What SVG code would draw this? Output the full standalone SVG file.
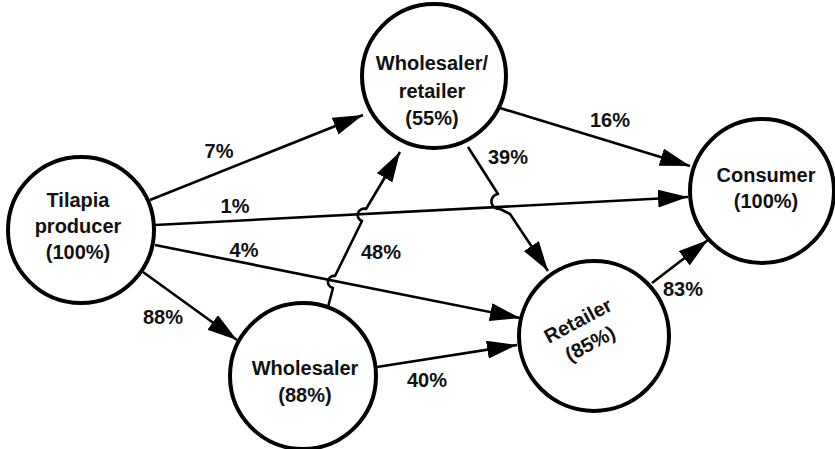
<svg xmlns="http://www.w3.org/2000/svg" width="835" height="449" viewBox="0 0 835 449">
<style>
.node{fill:#fff;stroke:#000;stroke-width:4}
.t{font-family:"Liberation Sans",Arial,sans-serif;font-weight:bold;font-size:20px;fill:#111;text-anchor:middle}
.e{fill:none;stroke:#000;stroke-width:2.6;stroke-linejoin:round}
.a{marker-end:url(#ah)}
</style>
<defs>
<marker id="ah" markerUnits="userSpaceOnUse" markerWidth="31" markerHeight="19" refX="30" refY="9" orient="auto" viewBox="0 0 31 19">
<path d="M0,0 L30,9 L0,18 Z" fill="#000"/>
</marker>
</defs>
<rect width="835" height="449" fill="#fff"/>
<g id="connectors">
<path class="e a" d="M150,200 L363,115"/>
<path class="e a" d="M155,225 L688,197"/>
<path class="e a" d="M155,245 L520,318"/>
<path class="e a" d="M143,272 L237,340"/>
<path class="e a" d="M328,307 L333,288 A6,6 0 0,1 335,276 L362,221 A6,6 0 0,1 366,209 L400,152"/>
<path class="e a" d="M500,108 L690,166"/>
<path class="e a" d="M468,147 L498,194 A7,7 0 0,0 500,209 L510,214 L548,271"/>
<path class="e a" d="M377,367 L517,345"/>
<path class="e a" d="M652,283 L708,240"/>
<text class="t" x="219" y="158">7%</text>
<text class="t" x="235" y="213">1%</text>
<text class="t" x="244" y="257">4%</text>
<text class="t" x="163" y="324">88%</text>
<text class="t" x="381" y="259">48%</text>
<text class="t" x="508" y="164">39%</text>
<text class="t" x="610" y="127">16%</text>
<text class="t" x="427" y="387">40%</text>
<text class="t" x="683" y="296">83%</text>
</g>
<g id="producer">
<circle class="node" cx="81" cy="230" r="73"/>
<text class="t" x="78" y="207">Tilapia</text>
<text class="t" x="78" y="233">producer</text>
<text class="t" x="78" y="259">(100%)</text>
</g>
<g id="wholesaler-retailer">
<circle class="node" cx="434" cy="76" r="72"/>
<text class="t" x="432" y="70">Wholesaler/</text>
<text class="t" x="432" y="98">retailer</text>
<text class="t" x="432" y="125">(55%)</text>
</g>
<g id="consumer">
<circle class="node" cx="762" cy="191" r="72"/>
<text class="t" x="766" y="182">Consumer</text>
<text class="t" x="766" y="208">(100%)</text>
</g>
<g id="wholesaler">
<circle class="node" cx="303" cy="376" r="73"/>
<text class="t" x="305" y="375">Wholesaler</text>
<text class="t" x="305" y="402">(88%)</text>
</g>
<g id="retailer">
<circle class="node" cx="594" cy="336" r="75"/>
<g transform="translate(584,332) rotate(-28)">
<text class="t" x="0" y="-6">Retailer</text>
<text class="t" x="0" y="20">(85%)</text>
</g>
</g>
</svg>
